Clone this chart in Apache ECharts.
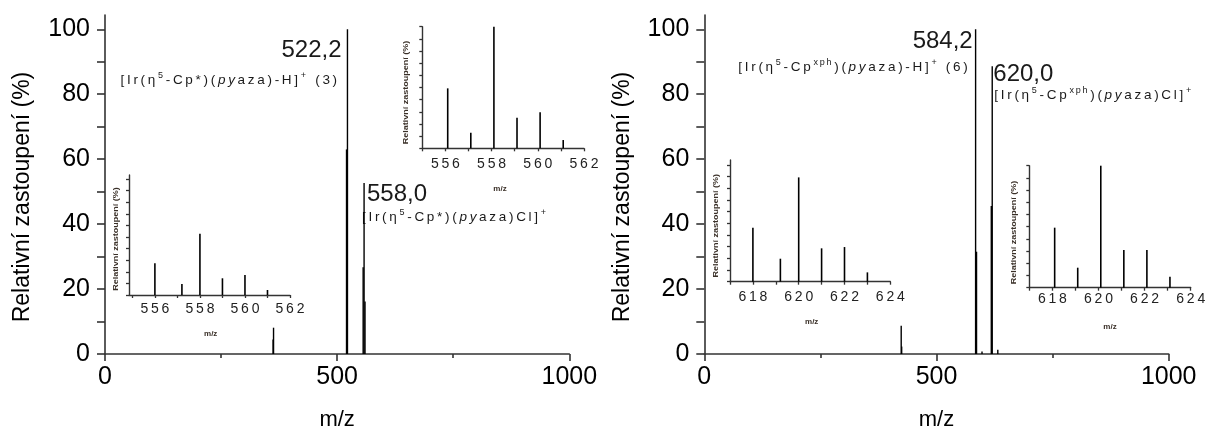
<!DOCTYPE html>
<html><head><meta charset="utf-8">
<script src="https://cdn.jsdelivr.net/npm/echarts@6/dist/echarts.min.js"></script>
<style>html,body{margin:0;padding:0;background:#fff}#c{width:1205px;height:430px}</style>
</head><body><div id="c"></div>
<script>
// ---------------- data ----------------
const mainXTicks = [0, 500, 1000];
const mainYLabels = [0, 20, 40, 60, 80, 100];
const mainYTicks = [0, 10, 20, 30, 40, 50, 60, 70, 80, 90, 100];

const leftMz  = [362, 363, 520.2, 522.2, 556, 558, 560];
const leftInt = [4.5, 8.1, 63, 100, 26.7, 52.7, 16.2];

const rightMz  = [424, 425, 584.2, 586.2, 598, 618, 620, 632];
const rightInt = [8.7, 2.3, 100, 31.5, 0.8, 45.6, 88.6, 1.3];

const insetAMz  = [556.0, 557.2, 558.0, 559.0, 560.0, 561.0];
const insetAInt = [27.3, 9.5, 52.8, 14.4, 17.2, 4.3];
const insetBMz  = [556.1, 557.1, 558.1, 559.1, 560.1, 561.1];
const insetBInt = [49.3, 12.8, 100, 25.1, 29.6, 6.8];
const insetCMz  = [618.0, 619.2, 620.0, 621.0, 622.0, 623.0];
const insetCInt = [46.3, 19.7, 89.4, 28.6, 29.7, 8.0];
const insetDMz  = [618.1, 619.1, 620.1, 621.1, 622.1, 623.1];
const insetDInt = [49.2, 16.4, 100, 30.9, 30.9, 9.0];

const leftInsetLabels  = [556, 558, 560, 562];
const leftInsetTicks   = [555, 556, 557, 558, 559, 560, 561, 562];
const rightInsetLabels = [618, 620, 622, 624];
const rightInsetTicks  = [617, 618, 619, 620, 621, 622, 623, 624];
const insetYTicks = [0, 10, 20, 30, 40, 50, 60, 70, 80, 90, 100];

const yTitle = 'Relativní zastoupení (%)';
const xTitle = 'm/z';

// ---------------- helpers ----------------
const FONT = '"Liberation Sans", Arial, sans-serif';
const AX = '#333';
const zip = (a, b) => a.map((v, i) => [v, b[i]]);
const TS = '\u2009';
const spaced = s => Array.from(s).join(TS);

function stick(width) {
  return function (params, api) {
    const p0 = api.coord([api.value(0), 0]);
    const p1 = api.coord([api.value(0), api.value(1)]);
    return { type: 'line', shape: { x1: p0[0], y1: p0[1], x2: p1[0], y2: p1[1] },
             style: { stroke: '#000', lineWidth: width } };
  };
}

function mainX(gi) {
  return {
    gridIndex: gi, type: 'value', min: 0, max: 1000, interval: 500,
    name: xTitle, nameLocation: 'middle', nameGap: 55,
    nameTextStyle: { fontSize: 22, color: '#000', fontFamily: FONT },
    axisLine: { show: true, onZero: false, lineStyle: { color: AX, width: 1.6 } },
    axisTick: { show: true, length: 7, lineStyle: { color: AX, width: 1.6 } },
    minorTick: { show: true, splitNumber: 2, length: 4, lineStyle: { color: AX, width: 1.6 } },
    axisLabel: { fontSize: 25, color: '#000', fontFamily: FONT, margin: 11, formatter: v => String(v) },
    splitLine: { show: false }, minorSplitLine: { show: false }
  };
}
function mainY(gi) {
  return {
    gridIndex: gi, type: 'value', min: 0, max: 104.4,
    axisLine: { show: true, onZero: false, lineStyle: { color: AX, width: 1.6 } },
    axisTick: { show: true, length: 8, customValues: mainYTicks, lineStyle: { color: AX, width: 1.6 } },
    axisLabel: { customValues: mainYLabels, fontSize: 25, color: '#000', fontFamily: FONT, margin: 15,
                 formatter: v => String(v) },
    splitLine: { show: false }
  };
}
function insetX(gi, min, max, ticks, labels, margin) {
  return {
    gridIndex: gi, type: 'value', min: min, max: max,
    axisLine: { show: true, onZero: false, lineStyle: { color: AX, width: 1.4 } },
    axisTick: { show: true, length: 3, customValues: ticks, lineStyle: { color: AX, width: 1.3 } },
    axisLabel: { customValues: labels, fontSize: 14, color: '#222', fontFamily: FONT, margin: margin,
                 formatter: v => spaced(String(v)) },
    splitLine: { show: false }
  };
}
function insetY(gi, max) {
  return {
    gridIndex: gi, type: 'value', min: 0, max: max,
    axisLine: { show: true, onZero: false, lineStyle: { color: AX, width: 1.4 } },
    axisTick: { show: true, length: 3, customValues: insetYTicks, lineStyle: { color: AX, width: 1.3 } },
    axisLabel: { show: false },
    splitLine: { show: false }
  };
}

// rich formula text builder: parts = [[text, styleName|null], ...]
function richText(parts) {
  return parts.map(([t, st]) => `{${st || 'n'}|${spaced(t)}}`).join(TS);
}
const FS = 13.5;
const RICH = {
  n:   { fontSize: FS, fontFamily: FONT, fill: '#1a1a1a', lineHeight: 18, verticalAlign: 'middle' },
  it:  { fontSize: FS, fontFamily: FONT, fill: '#1a1a1a', fontStyle: 'italic', lineHeight: 18, verticalAlign: 'middle' },
  sup: { fontSize: 9,  fontFamily: FONT, fill: '#1a1a1a', lineHeight: 9, verticalAlign: 'top' }
};
const formula1 = richText([['[Ir(η', null], ['5', 'sup'], ['-Cp*)(', null], ['py', 'it'], ['aza)-H]', null], ['+', 'sup'], [' (3)', null]]);
const formula2 = richText([['[Ir(η', null], ['5', 'sup'], ['-Cp*)(', null], ['py', 'it'], ['aza)Cl]', null], ['+', 'sup']]);
const formula3 = richText([['[Ir(η', null], ['5', 'sup'], ['-Cp', null], ['xph', 'sup'], [')(', null], ['py', 'it'], ['aza)-H]', null], ['+', 'sup'], [' (6)', null]]);
const formula4 = richText([['[Ir(η', null], ['5', 'sup'], ['-Cp', null], ['xph', 'sup'], [')(', null], ['py', 'it'], ['aza)Cl]', null], ['+', 'sup']]);

function txt(x, y, text, size, align) {
  return { type: 'text', x: x, y: y, silent: true,
    style: { text: text, fontSize: size, fontFamily: FONT, fill: '#1a1a1a', align: align, verticalAlign: 'middle' } };
}
function ftxt(x, y, text) {
  return { type: 'text', x: x, y: y, silent: true,
    style: { text: text, rich: RICH, fontSize: FS, fontFamily: FONT, fill: '#1a1a1a', lineHeight: 18,
             align: 'left', verticalAlign: 'middle' } };
}
function mainYTitle(x, y) {
  return { type: 'text', x: x, y: y, rotation: Math.PI / 2, silent: true,
    style: { text: yTitle, fontSize: 23, fontFamily: FONT, fill: '#000', align: 'center', verticalAlign: 'middle' } };
}
function insetTitle(x, y) {
  return { type: 'text', x: x, y: y, rotation: Math.PI / 2, scaleY: 0.7, silent: true,
    style: { text: yTitle, fontSize: 9, fontWeight: 'bold', fontFamily: FONT, fill: '#3a3028',
             align: 'center', verticalAlign: 'middle' } };
}
function insetXTitle(x, y) {
  return { type: 'text', x: x, y: y, silent: true,
    style: { text: xTitle, fontSize: 8, fontWeight: 'bold', fontFamily: FONT, fill: '#3a3028',
             align: 'center', verticalAlign: 'middle' } };
}

const option = {
  animation: false,
  backgroundColor: '#fff',
  grid: [
    { left: 105,   top: 15,    width: 464.3, height: 339,   outerBoundsMode: 'none' },
    { left: 704.3, top: 15,    width: 464.4, height: 339,   outerBoundsMode: 'none' },
    { left: 129,   top: 175,   width: 161,   height: 120,   outerBoundsMode: 'none' },
    { left: 422.3, top: 26.7,  width: 161.7, height: 121.6, outerBoundsMode: 'none' },
    { left: 730,   top: 160,   width: 160.3, height: 121.7, outerBoundsMode: 'none' },
    { left: 1029.3,top: 165.7, width: 161.4, height: 122,   outerBoundsMode: 'none' }
  ],
  xAxis: [
    mainX(0), mainX(1),
    insetX(2, 554.85, 562, leftInsetTicks, leftInsetLabels, 7.3),
    insetX(3, 555, 562, leftInsetTicks, leftInsetLabels, 9),
    insetX(4, 617, 624, rightInsetTicks, rightInsetLabels, 8.9),
    insetX(5, 617, 624, rightInsetTicks, rightInsetLabels, 4.6)
  ],
  yAxis: [
    mainY(0), mainY(1),
    insetY(2, 103.4), insetY(3, 100), insetY(4, 104.3), insetY(5, 100)
  ],
  series: [
    { type: 'custom', xAxisIndex: 0, yAxisIndex: 0, renderItem: stick(1.4), encode: { x: 0, y: 1 }, data: zip(leftMz, leftInt) },
    { type: 'custom', xAxisIndex: 1, yAxisIndex: 1, renderItem: stick(1.4), encode: { x: 0, y: 1 }, data: zip(rightMz, rightInt) },
    { type: 'custom', xAxisIndex: 2, yAxisIndex: 2, renderItem: stick(1.6), encode: { x: 0, y: 1 }, data: zip(insetAMz, insetAInt) },
    { type: 'custom', xAxisIndex: 3, yAxisIndex: 3, renderItem: stick(1.6), encode: { x: 0, y: 1 }, data: zip(insetBMz, insetBInt) },
    { type: 'custom', xAxisIndex: 4, yAxisIndex: 4, renderItem: stick(1.6), encode: { x: 0, y: 1 }, data: zip(insetCMz, insetCInt) },
    { type: 'custom', xAxisIndex: 5, yAxisIndex: 5, renderItem: stick(1.6), encode: { x: 0, y: 1 }, data: zip(insetDMz, insetDInt) }
  ],
  graphic: [
    mainYTitle(23, 197), mainYTitle(623, 197),
    txt(341.5, 50, '522,2', 24, 'right'),
    ftxt(120.5, 80, formula1),
    txt(367, 194, '558,0', 24, 'left'),
    ftxt(362, 217, formula2),
    txt(972.7, 41.5, '584,2', 24, 'right'),
    ftxt(738.3, 67.5, formula3),
    txt(993.3, 74.7, '620,0', 24, 'left'),
    ftxt(994.3, 95, formula4),
    insetTitle(115.8, 239), insetTitle(406.2, 92.5), insetTitle(716, 225.8), insetTitle(1014, 232.5),
    insetXTitle(210.7, 333.3), insetXTitle(500, 188.3), insetXTitle(811.7, 321.7), insetXTitle(1110, 326.7)
  ]
};

const chart = echarts.init(document.getElementById('c'), null, { renderer: 'canvas' });
chart.setOption(option);
</script>
</body></html>
